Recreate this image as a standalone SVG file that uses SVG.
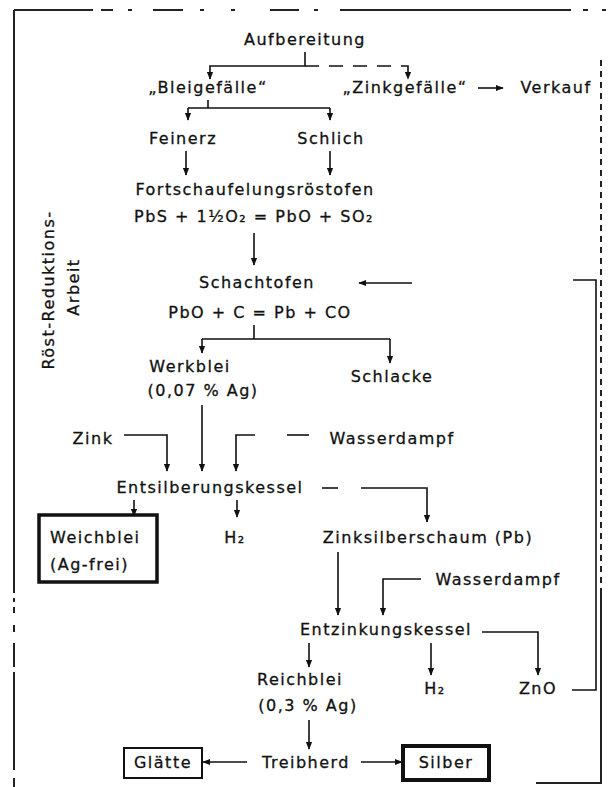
<svg xmlns="http://www.w3.org/2000/svg" width="609" height="787" viewBox="0 0 609 787">
<style>
text{font-family:"DejaVu Sans","Liberation Sans",sans-serif;font-size:16px;letter-spacing:1.5px;fill:#111;stroke:#111;stroke-width:0.3;text-anchor:middle}
.l{text-anchor:start}
.c{fill:none;stroke:#111;stroke-width:1.6}
.a{marker-end:url(#ah)}
.d{stroke-dasharray:14 10}
.f{fill:none;stroke:#222;stroke-width:2}
.box{fill:#fff;stroke:#111}
</style>
<defs>
<marker id="ah" viewBox="0 0 10 10" refX="9" refY="5" markerWidth="8" markerHeight="8" orient="auto" markerUnits="userSpaceOnUse"><path d="M0,1 L10,5 L0,9 z" fill="#111"/></marker>
</defs>
<rect width="609" height="787" fill="#fff"/>
<g id="frame">
<path class="f" d="M14,10 H93 M101,10 H113 M128,10 H132 M153,10 H183 M200,10 H204 M231,10 H235 M270,10 H299 M314,10 H318 M340,10 H571 M583,10 H588 M602,10 H606"/>
<path class="f" d="M14,10 V593 M14,598 V602 M14,607 V613 M14,625 V632 M14,643 V667 M14,672 V770 M14,778 V787"/>
<path class="f" d="M601,60 V590" stroke-dasharray="6 5"/>
<path class="f" d="M601,590 V783 H536"/>
</g>
<g id="side-label">
<text x="54" y="290" transform="rotate(-90 54 290)">Röst-Reduktions-</text>
<text x="79" y="287" transform="rotate(-90 79 287)">Arbeit</text>
</g>
<g id="n-aufbereitung"><text x="305" y="45">Aufbereitung</text></g>
<g id="n-bleigefaelle"><text x="208" y="93">„Bleigefälle“</text></g>
<g id="n-zinkgefaelle"><text x="405" y="93">„Zinkgefälle“</text></g>
<g id="n-verkauf"><text x="556" y="93">Verkauf</text></g>
<g id="n-feinerz"><text x="183" y="144">Feinerz</text></g>
<g id="n-schlich"><text x="331" y="144">Schlich</text></g>
<g id="n-roestofen">
<text x="255" y="195">Fortschaufelungsröstofen</text>
<text x="254" y="222">PbS + 1½O₂ = PbO + SO₂</text>
</g>
<g id="n-schachtofen">
<text x="257" y="288">Schachtofen</text>
<text x="260" y="318">PbO + C = Pb + CO</text>
</g>
<g id="n-werkblei">
<text x="190" y="372">Werkblei</text>
<text x="203" y="396">(0,07 % Ag)</text>
</g>
<g id="n-schlacke"><text x="392" y="382">Schlacke</text></g>
<g id="n-zink"><text x="93" y="444">Zink</text></g>
<g id="n-wasserdampf1"><text x="392" y="444">Wasserdampf</text></g>
<g id="n-entsilberungskessel"><text x="210" y="493">Entsilberungskessel</text></g>
<g id="n-weichblei">
<rect class="box" x="39" y="515" width="118" height="67" stroke-width="3.5"/>
<text class="l" x="50" y="543">Weichblei</text>
<text class="l" x="50" y="570">(Ag-frei)</text>
</g>
<g id="n-h2a"><text x="235" y="543">H₂</text></g>
<g id="n-zinksilberschaum"><text x="428" y="543">Zinksilberschaum (Pb)</text></g>
<g id="n-wasserdampf2"><text x="498" y="585">Wasserdampf</text></g>
<g id="n-entzinkungskessel"><text x="386" y="635">Entzinkungskessel</text></g>
<g id="n-reichblei">
<text x="300" y="685">Reichblei</text>
<text x="308" y="711">(0,3 % Ag)</text>
</g>
<g id="n-h2b"><text x="435" y="694">H₂</text></g>
<g id="n-zno"><text x="538" y="694">ZnO</text></g>
<g id="n-glaette">
<rect class="box" x="124" y="748" width="78" height="30" stroke-width="2"/>
<text x="163" y="768">Glätte</text>
</g>
<g id="n-treibherd"><text x="306" y="768">Treibherd</text></g>
<g id="n-silber">
<rect class="box" x="403" y="746" width="86" height="34" stroke-width="4"/>
<text x="446" y="768">Silber</text>
</g>
<g id="connectors">
<path class="c a" d="M305,52 V66 H210 V79"/>
<path class="c a d" d="M305,66 H408 V79"/>
<path class="c a" d="M478,88 H503"/>
<path class="c" d="M208,100 V108 M188,108 H330"/>
<path class="c a" d="M188,108 V120"/>
<path class="c a" d="M330,108 V120"/>
<path class="c a" d="M186,151 V175"/>
<path class="c a" d="M330,151 V175"/>
<path class="c a" d="M254,233 V265"/>
<path class="c" d="M572,690 H596 V280 H573"/>
<path class="c a" d="M412,283 H359"/>
<path class="c" d="M254,325 V339 M202,339 H390"/>
<path class="c a" d="M202,339 V353"/>
<path class="c a" d="M390,339 V363"/>
<path class="c a" d="M202,405 V471"/>
<path class="c a" d="M124,435 H167 V471"/>
<path class="c a" d="M255,435 H236 V471"/>
<path class="c" d="M287,435 H309"/>
<path class="c" d="M322,488 H338"/>
<path class="c a" d="M361,488 H427 V522"/>
<path class="c a" d="M134,500 V516"/>
<path class="c a" d="M237,500 V517"/>
<path class="c a" d="M338,552 V615"/>
<path class="c a" d="M421,579 H383 V615"/>
<path class="c a" d="M482,632 H538 V675"/>
<path class="c a" d="M309,643 V667"/>
<path class="c a" d="M431,643 V675"/>
<path class="c a" d="M309,720 V749"/>
<path class="c a" d="M247,762 H203"/>
<path class="c a" d="M361,762 H402"/>
</g>
</svg>
